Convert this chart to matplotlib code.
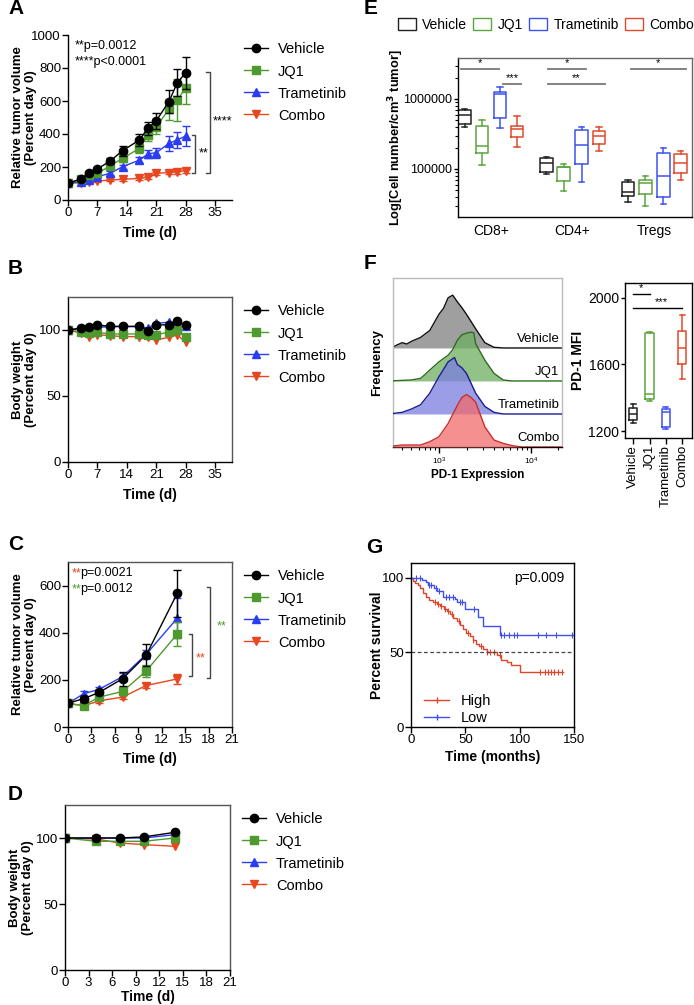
import numpy as np
import matplotlib.pyplot as plt
from matplotlib.patches import Patch
from matplotlib.lines import Line2D
from matplotlib.ticker import LogLocator, NullFormatter, FixedLocator

plt.rcParams['font.family'] = ['Liberation Sans', 'DejaVu Sans']
plt.rcParams['font.size'] = 9
plt.rcParams['axes.linewidth'] = 1.0
plt.rcParams['mathtext.default'] = 'regular'

W, H = 694, 1005

groups = ['Vehicle', 'JQ1', 'Trametinib', 'Combo']
colors = ['black', '#4f9a2e', '#2b3df2', '#e8461e']
markers = ['o', 's', '^', 'v']
box_colors = ['#222222', '#5aa53d', '#3d52f0', '#e04a2a']

# ---- A: tumour growth, model 1 ----
days_a = [0, 3, 5, 7, 10, 13, 17, 19, 21, 24, 26, 28]
vol_a = [
    [101, 127, 162, 188, 236, 299, 364, 434, 481, 596, 711, 772],
    [101, 127, 152, 162, 206, 253, 313, 394, 444, 550, 606, 681],
    [101, 111, 121, 141, 162, 202, 242, 279, 287, 343, 364, 388],
    [101, 105, 111, 115, 121, 125, 131, 137, 162, 166, 170, 178],
]
err_a = [
    [6, 10, 10, 14, 17, 30, 34, 40, 48, 70, 83, 97],
    [5, 8, 10, 12, 15, 22, 26, 35, 45, 65, 125, 100],
    [5, 8, 10, 10, 12, 12, 20, 25, 30, 47, 46, 60],
    [4, 5, 5, 6, 6, 8, 8, 8, 10, 10, 10, 12],
]

# ---- B: body weight, model 1 ----
wt_b = [
    [100, 101.5, 102, 103.8, 102.8, 102.8, 102.8, 99.5, 103.8, 104, 106.6, 103.8],
    [100, 98.7, 97.5, 98.2, 97, 97, 97, 96.4, 96.2, 98.7, 100, 95],
    [100, 101, 101, 102, 102.5, 102.5, 102.5, 101.5, 105, 106, 105, 103],
    [100, 97.7, 94.4, 96.4, 95.7, 95, 95, 94.4, 92.6, 94.4, 96.4, 90.6],
]

# ---- C: tumour growth, model 2 ----
days_c = [0, 2, 4, 7, 10, 14]
vol_c = [
    [101, 120, 147, 205, 304, 568],
    [100, 91, 127, 151, 237, 395],
    [100, 141, 160, 214, 308, 462],
    [100, 90, 111, 127, 176, 204],
]
err_c = [
    [4, 12, 8, 29, 47, 100],
    [4, 8, 8, 15, 25, 50],
    [3, 12, 8, 15, 20, 85],
    [3, 6, 8, 8, 12, 20],
]

# ---- D: body weight, model 2 ----
days_d = [0, 4, 7, 10, 14]
wt_d = [
    [100, 100, 100, 100.8, 104.3],
    [100, 97.5, 97.5, 97.5, 100],
    [100, 100, 100, 100, 102.5],
    [100, 99.2, 96.2, 95, 93.7],
]

# ---- E: immune cell counts (box stats: rows = CD8+, CD4+, Tregs; cols = groups) ----
e_cats = ['CD8+', 'CD4+', 'Tregs']
e_lo = [[4.0e5, 1.14e5, 3.85e5, 2.07e5], [8.5e4, 4.9e4, 6.6e4, 1.8e5], [3.4e4, 2.96e4, 3.2e4, 6.9e4]]
e_q1 = [[4.4e5, 1.7e5, 5.3e5, 2.85e5], [9.0e4, 6.7e4, 1.18e5, 2.3e5], [4.1e4, 4.4e4, 4.0e4, 8.8e4]]
e_med = [[5.9e5, 2.1e5, 1.18e6, 3.7e5], [1.22e5, 1.05e5, 2.2e5, 2.96e5], [4.7e4, 6.3e4, 7.9e4, 1.22e5]]
e_q3 = [[7.0e5, 4.1e5, 1.26e6, 4.1e5], [1.43e5, 1.07e5, 3.6e5, 3.5e5], [6.6e4, 6.9e4, 1.7e5, 1.64e5]]
e_hi = [[7.2e5, 5.0e5, 1.48e6, 5.7e5], [1.49e5, 1.18e5, 4.0e5, 4.0e5], [6.9e4, 7.9e4, 2.0e5, 1.8e5]]
# significance bars: (x start, x end, level, label)
e_sig = [(-0.36, 0.10, 2.68e6, '*'), (0.15, 0.375, 1.64e6, '***'),
         (0.70, 1.17, 2.68e6, '*'), (0.70, 1.40, 1.64e6, '**'),
         (1.71, 2.39, 2.68e6, '*')]

# ---- F: PD-1 histograms (log10 intensity, height) ----
hist_x = [
    [2.45, 2.5, 2.55, 2.6, 2.65, 2.7, 2.8, 2.9, 3.0, 3.05, 3.1, 3.15, 3.2, 3.25, 3.3, 3.4, 3.5, 3.6, 3.7, 4.35],
    [2.45, 2.7, 2.8, 2.85, 2.9, 3.0, 3.1, 3.15, 3.2, 3.25, 3.3, 3.35, 3.38, 3.4, 3.5, 3.6, 3.7, 3.8, 4.35],
    [2.45, 2.6, 2.7, 2.8, 2.9, 3.0, 3.05, 3.1, 3.17, 3.2, 3.25, 3.3, 3.4, 3.5, 3.6, 3.7, 4.35],
    [2.45, 2.5, 2.6, 2.7, 2.8, 2.9, 3.0, 3.1, 3.2, 3.25, 3.3, 3.35, 3.4, 3.5, 3.6, 3.7, 3.8, 3.9, 4.35],
]
hist_y = [
    [0, 0.03, 0.1, 0.16, 0.12, 0.2, 0.32, 0.53, 1.02, 1.2, 1.52, 1.6, 1.4, 1.22, 1.02, 0.58, 0.16, 0.02, 0, 0],
    [0, 0.03, 0.08, 0.2, 0.33, 0.58, 0.78, 0.95, 1.23, 1.4, 1.45, 1.48, 1.46, 1.13, 0.63, 0.23, 0.03, 0, 0],
    [0, 0.05, 0.15, 0.28, 0.63, 1.13, 1.35, 1.58, 1.71, 1.5, 1.4, 1.23, 0.63, 0.23, 0.05, 0, 0],
    [0.02, 0.03, 0.06, 0.06, 0.06, 0.16, 0.31, 0.71, 1.26, 1.5, 1.59, 1.5, 1.36, 0.61, 0.21, 0.11, 0.04, 0, 0],
]
hist_fill = ['#7f7f7f', '#6fae62', '#7a7ee0', '#f26b6b']
hist_edge = ['#111111', '#2d6e1e', '#1c1c90', '#c8302c']

# PD-1 MFI box stats (per group)
f_lo = [1250, 1380, 1215, 1513]
f_q1 = [1265, 1395, 1225, 1600]
f_med = [1300, 1425, 1315, 1700]
f_q3 = [1340, 1790, 1335, 1800]
f_hi = [1360, 1795, 1345, 1898]

# ---- G: Kaplan-Meier ----
km_low_t = [0, 9.8, 13.8, 15.9, 21, 23.6, 29.7, 40.4, 42.5, 49.6, 61.8, 66.4, 81.7, 150]
km_low_s = [100, 98.5, 97, 95.5, 93.5, 91, 87.5, 86, 84, 79, 74, 68, 62, 62]
km_low_cens = [4.6, 8.3, 17, 18.5, 23, 26, 32, 35, 38.5, 45, 46.5, 58, 83, 86, 90, 95, 98, 117, 124, 133, 148]
km_high_t = [0, 2, 4, 6, 8, 11, 14, 17, 20, 24, 27, 30, 33, 36, 39, 42, 45, 48, 51, 54, 57, 60,
             63, 66, 69.5, 79, 83, 88, 92, 100, 140]
km_high_s = [100, 98, 96.5, 95, 93, 90, 87, 85.5, 84, 82.5, 81, 79, 77.5, 75.5, 73, 71, 68.5, 66,
             63, 61, 58.5, 56, 54, 52, 50, 48.5, 45, 43.5, 41.5, 37, 37]
km_high_cens = [22, 25, 28, 31, 34, 38, 44, 52, 57, 64, 70, 73, 76, 82, 119, 123, 126, 129, 132, 135, 139]


def rect(l, t, r, b):
    return [l / W, 1 - b / H, (r - l) / W, (b - t) / H]


def style_ticks(ax):
    ax.tick_params(direction='out', length=4, width=1, labelsize=9.5, pad=1)


def growth_panel(r, days, vals, errs, ylim, yticks, xlim, xticks, ylabel, box, xlab_y):
    ax = fig.add_axes(r)
    for i in reversed(range(4)):
        ax.errorbar(days, vals[i], yerr=errs[i] if errs else None, color=colors[i],
                    marker=markers[i], ms=6, lw=1, elinewidth=1, capsize=3,
                    zorder=3 + (4 - i))
    ax.set_xlim(*xlim)
    ax.set_ylim(*ylim)
    ax.set_xticks(xticks)
    ax.set_yticks(yticks)
    style_ticks(ax)
    if box:
        for s in ['top', 'right']:
            ax.spines[s].set_color('#555555')
    else:
        ax.spines['top'].set_visible(False)
        ax.spines['right'].set_visible(False)
    ax.set_ylabel(ylabel, fontweight='bold', fontsize=9.5, linespacing=1.1)
    ax.yaxis.set_label_coords(-0.19, 0.5)
    ax.set_xlabel('Time (d)', fontweight='bold', fontsize=10)
    ax.xaxis.set_label_coords(0.5, xlab_y)
    handles = [Line2D([], [], color=colors[i], marker=markers[i], ms=6, lw=1) for i in range(4)]
    ax.legend(handles, groups, loc='upper left', bbox_to_anchor=(1.04, 0.99), frameon=False,
              fontsize=10.5, handlelength=1.6, handletextpad=0.7, labelspacing=0.55,
              borderaxespad=0)
    return ax


fig = plt.figure(figsize=(W / 100, H / 100), dpi=100)

# A
axA = growth_panel(rect(68, 35, 232, 200), days_a, vol_a, err_a, (0, 1000),
                   range(0, 1001, 200), (0, 39), range(0, 36, 7),
                   'Relative tumor volume\n(Percent day 0)', False, -0.16)
axA.text(0.04, 0.97, '**p=0.0012', transform=axA.transAxes, fontsize=9, va='top')
axA.text(0.04, 0.87, '****p<0.0001', transform=axA.transAxes, fontsize=9, va='top')
for x, y0, y1, lab, tx, ty in [(30.3, 166, 394, '**', 31.2, 283), (33.7, 166, 778, '****', 34.4, 475)]:
    axA.plot([x - 0.8, x, x, x - 0.8], [y0, y0, y1, y1], color='#444444', lw=1, clip_on=False)
    axA.text(tx, ty, lab, fontsize=9, va='center', ha='left')

# B
growth_panel(rect(68, 297, 232, 462), days_a, wt_b, None, (0, 125), [0, 50, 100],
             (0, 39), range(0, 36, 7), 'Body weight\n(Percent day 0)', True, -0.16)

# C
axC = growth_panel(rect(68, 562, 232, 727), days_c, vol_c, err_c, (0, 700), [0, 200, 400, 600],
                   (0, 21), range(0, 22, 3), 'Relative tumor volume\n(Percent day 0)', True, -0.15)
axC.text(0.02, 0.97, '**', color=colors[3], transform=axC.transAxes, fontsize=9, va='top')
axC.text(0.075, 0.97, 'p=0.0021', transform=axC.transAxes, fontsize=9, va='top')
axC.text(0.02, 0.87, '**', color=colors[1], transform=axC.transAxes, fontsize=9, va='top')
axC.text(0.075, 0.87, 'p=0.0012', transform=axC.transAxes, fontsize=9, va='top')
for x, y0, y1, lab, c, tx, ty in [(15.9, 215, 394, '**', colors[3], 16.4, 290),
                                  (18.2, 208, 594, '**', colors[1], 19.0, 425)]:
    axC.plot([x - 0.4, x, x, x - 0.4], [y0, y0, y1, y1], color='#444444', lw=1)
    axC.text(tx, ty, lab, color=c, fontsize=9, va='center', ha='left')

# D
growth_panel(rect(65, 805, 230, 970), days_d, wt_d, None, (0, 125), [0, 50, 100],
             (0, 21), range(0, 22, 3), 'Body weight\n(Percent day 0)', True, -0.12)

# E
axE = fig.add_axes(rect(458, 58, 692, 217))
offsets = [-0.32, -0.11, 0.11, 0.32]
for g in range(4):
    stats = []
    for c in range(3):
        stats.append(dict(whislo=e_lo[c][g], q1=e_q1[c][g], med=e_med[c][g],
                          q3=e_q3[c][g], whishi=e_hi[c][g], fliers=[]))
    col = box_colors[g]
    axE.bxp(stats, positions=[c + offsets[g] for c in range(3)], widths=0.15,
            capwidths=0.07, showfliers=False, manage_ticks=False,
            boxprops=dict(color=col, lw=1.1), whiskerprops=dict(color=col, lw=1.1),
            capprops=dict(color=col, lw=1.1), medianprops=dict(color=col, lw=1.1))
axE.set_yscale('log')
axE.set_ylim(2.06e4, 3.85e6)
axE.set_xlim(-0.4, 2.46)
axE.yaxis.set_major_locator(FixedLocator([1e5, 1e6]))
axE.set_yticklabels(['100000', '1000000'])
axE.yaxis.set_minor_locator(LogLocator(base=10, subs=np.arange(2, 10)))
axE.yaxis.set_minor_formatter(NullFormatter())
axE.set_xticks(range(3))
axE.set_xticklabels(e_cats)
axE.tick_params(axis='x', length=0, labelsize=10, pad=5)
axE.tick_params(axis='y', direction='out', length=3, width=1, labelsize=9, pad=1)
axE.tick_params(axis='y', which='minor', direction='out', length=2.5, width=0.8)
for s in ['top', 'right']:
    axE.spines[s].set_color('#666666')
axE.set_ylabel('Log[Cell number/cm$^{\\mathbf{3}}$ tumor]', fontweight='bold', fontsize=9.3)
axE.yaxis.set_label_coords(-0.222, 0.5)
for x0, x1, y, lab in e_sig:
    axE.plot([x0, x1], [y, y], color='#777777', lw=1.3)
    axE.text((x0 + x1) / 2, y * 1.03, lab, ha='center', va='bottom', fontsize=8)
fig.legend([Patch(facecolor='white', edgecolor=c, lw=1) for c in box_colors], groups,
           loc='center', bbox_to_anchor=(546 / W, 1 - 25 / H), ncol=4, frameon=False,
           fontsize=10, handlelength=1.3, handleheight=0.9, handletextpad=0.45,
           columnspacing=0.45)

# F histograms
axF = fig.add_axes(rect(393, 278, 562, 447))
for i in range(4):
    base = 3 - i
    xs = [10 ** v for v in hist_x[i]]
    ys = [base + v for v in hist_y[i]]
    axF.fill_between(xs, base, ys, color=hist_fill[i], alpha=0.75, lw=0, zorder=2 + i)
    axF.plot(xs, ys, color=hist_edge[i], lw=1, zorder=2 + i)
    axF.text(0.985, (base + 0.08) / 5.12, groups[i], transform=axF.transAxes,
             ha='right', va='bottom', fontsize=9.5, zorder=10)
axF.set_xscale('log')
axF.set_xlim(10 ** 2.5, 10 ** 4.34)
axF.set_ylim(0, 5.12)
axF.set_yticks([])
axF.set_xticks([1e3, 1e4])
axF.set_xticklabels(['$10^3$', '$10^4$'])
axF.xaxis.set_minor_locator(LogLocator(base=10, subs=np.arange(2, 10)))
axF.xaxis.set_minor_formatter(NullFormatter())
axF.tick_params(axis='x', direction='out', length=4, width=1, labelsize=6, pad=2)
axF.tick_params(axis='x', which='minor', direction='out', length=2.5, width=0.8)
for s in ['top', 'left', 'right']:
    axF.spines[s].set_color('#bbbbbb')
axF.set_xlabel('PD-1 Expression', fontweight='bold', fontsize=8.5, labelpad=2)
axF.set_ylabel('Frequency', fontweight='bold', fontsize=9.5)
axF.yaxis.set_label_coords(-0.06, 0.5)

# F box plot
axF2 = fig.add_axes(rect(625, 283, 692, 438))
for g in range(4):
    col = box_colors[g]
    axF2.bxp([dict(whislo=f_lo[g], q1=f_q1[g], med=f_med[g], q3=f_q3[g], whishi=f_hi[g], fliers=[])],
             positions=[g], widths=0.5, capwidths=0.3, showfliers=False, manage_ticks=False,
             boxprops=dict(color=col, lw=1.1), whiskerprops=dict(color=col, lw=1.1),
             capprops=dict(color=col, lw=1.1), medianprops=dict(color=col, lw=1.1))
axF2.set_xlim(-0.5, 3.6)
axF2.set_ylim(1158, 2090)
axF2.set_yticks([1200, 1600, 2000])
axF2.set_xticks(range(4))
axF2.set_xticklabels(groups, rotation=90, fontsize=10)
style_ticks(axF2)
axF2.tick_params(axis='y', labelsize=10, length=3)
axF2.set_ylabel('PD-1 MFI', fontweight='bold', fontsize=10)
axF2.yaxis.set_label_coords(-0.6, 0.5)
for x0, x1, y, lab in [(0, 1, 2024, '*'), (0, 3, 1940, '***')]:
    axF2.plot([x0, x1], [y, y], color='black', lw=1)
    axF2.text((x0 + x1) / 2 if lab == '*' else 1.7, y + 5, lab, ha='center', va='bottom', fontsize=8)

# G Kaplan-Meier
axG = fig.add_axes(rect(411, 563, 574, 727))
red, blue = '#e0452a', '#3f4ff2'
axG.plot(km_high_t, km_high_s, drawstyle='steps-post', color=red, lw=1)
axG.plot(km_low_t, km_low_s, drawstyle='steps-post', color=blue, lw=1)
hi_idx = np.searchsorted(km_high_t, km_high_cens, side='right') - 1
lo_idx = np.searchsorted(km_low_t, km_low_cens, side='right') - 1
axG.plot(km_high_cens, np.array(km_high_s)[hi_idx], ls='none', marker='|', ms=4, mew=0.8, color=red)
axG.plot(km_low_cens, np.array(km_low_s)[lo_idx], ls='none', marker='|', ms=4, mew=0.8, color=blue)
axG.axhline(50, color='#444444', lw=0.9, ls=(0, (3, 2)))
axG.set_xlim(0, 150)
axG.set_ylim(0, 110)
axG.set_xticks([0, 50, 100, 150])
axG.set_yticks([0, 50, 100])
style_ticks(axG)
axG.set_ylabel('Percent survival', fontweight='bold', fontsize=10)
axG.yaxis.set_label_coords(-0.165, 0.5)
axG.set_xlabel('Time (months)', fontweight='bold', fontsize=10, labelpad=3)
axG.text(0.94, 0.95, 'p=0.009', transform=axG.transAxes, ha='right', va='top', fontsize=10)
axG.legend([Line2D([], [], color=red, lw=1, marker='|', ms=4),
            Line2D([], [], color=blue, lw=1, marker='|', ms=4)], ['High', 'Low'],
           loc='lower left', bbox_to_anchor=(0.0, -0.07), frameon=False, fontsize=10.5,
           handlelength=1.7, handletextpad=0.8, labelspacing=0.25)

# panel letters
for lab, x, y in [('A', 8, 9), ('B', 8, 268), ('C', 8, 545), ('D', 8, 795),
                  ('E', 364, 8), ('F', 364, 263), ('G', 366, 547)]:
    fig.text(x / W, 1 - y / H, lab, fontsize=15, fontweight='bold', va='center', ha='left')

fig.savefig('out.png', dpi=100)
